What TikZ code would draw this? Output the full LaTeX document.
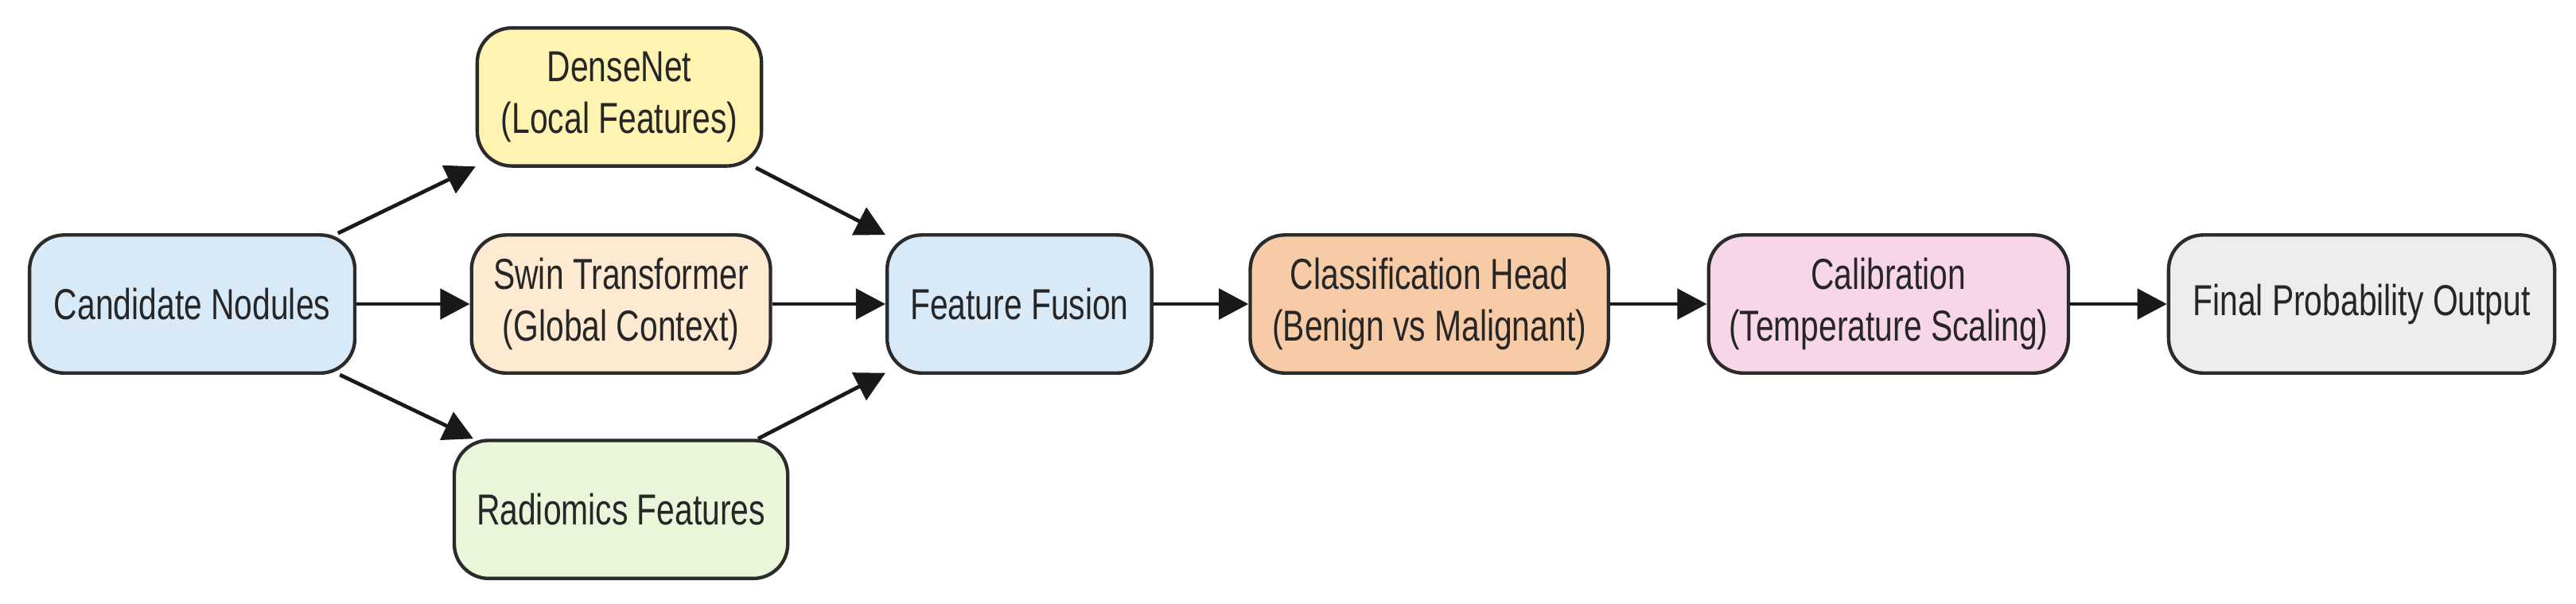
\documentclass[tikz,border=0pt]{standalone}
\usepackage{fontspec}
\setmainfont{Liberation Sans}[FakeStretch=0.75]
\usepackage{tikz}
\usetikzlibrary{arrows.meta}

\definecolor{nodblue}{HTML}{D8EAF7}
\definecolor{nodyellow}{HTML}{FFF3B2}
\definecolor{nodpeach}{HTML}{FDEAD0}
\definecolor{nodgreen}{HTML}{EAF6D9}
\definecolor{nodorange}{HTML}{F6CBA5}
\definecolor{nodpink}{HTML}{F8D6EA}
\definecolor{nodgrey}{HTML}{EDEDED}
\definecolor{edgegrey}{HTML}{2B2B2B}

\tikzset{
  stage/.style={draw=edgegrey, line width=1.2pt, rounded corners=0.42cm,
    minimum height=1.68cm, align=center, text=black!85,
    font=\fontsize{15}{18}\selectfont, inner sep=2pt},
  flow/.style={-{Triangle[length=0.36cm,width=0.37cm]}, line width=1.3pt, draw=black!90}
}

\begin{document}
\begin{tikzpicture}
    \useasboundingbox (0,0) rectangle (31.36,7.35);
    % inputs
    \node[stage, fill=nodblue, minimum width=3.96cm] (cand) at (2.34,3.65) {Candidate Nodules};
    % three feature branches
    \node[stage, fill=nodyellow, minimum width=3.46cm] (dense) at (7.54,6.17) {DenseNet\\(Local Features)};
    \node[stage, fill=nodpeach, minimum width=3.64cm] (swin) at (7.56,3.65) {Swin Transformer\\(Global Context)};
    \node[stage, fill=nodgreen, minimum width=4.06cm] (radio) at (7.56,1.15) {Radiomics Features};
    % fusion and output chain
    \node[stage, fill=nodblue, minimum width=3.22cm] (fusion) at (12.41,3.65) {Feature Fusion};
    \node[stage, fill=nodorange, minimum width=4.36cm] (cls) at (17.40,3.65) {Classification Head\\(Benign vs Malignant)};
    \node[stage, fill=nodpink, minimum width=4.38cm] (calib) at (22.99,3.65) {Calibration\\(Temperature Scaling)};
    \node[stage, fill=nodgrey, minimum width=4.70cm] (final) at (28.75,3.65) {Final Probability Output};

    \foreach \b in {dense,swin,radio}
    {
    \draw[flow] (cand) -- (\b);
    \draw[flow] (\b) -- (fusion);
    }
    \draw[flow] (fusion) -- (cls);
    \draw[flow] (cls) -- (calib);
    \draw[flow] (calib) -- (final);
\end{tikzpicture}
\end{document}
